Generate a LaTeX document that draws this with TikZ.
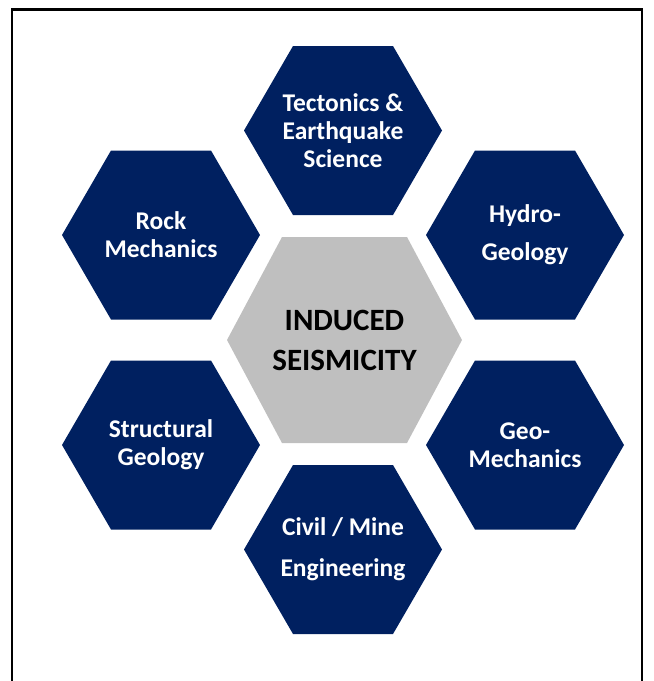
\documentclass[tikz,border=0pt]{standalone}
\usepackage{fontspec}
\setmainfont{Carlito}
\usetikzlibrary{calc}

\definecolor{hexblue}{HTML}{002060}
\definecolor{hexgray}{HTML}{BFBFBF}

\begin{document}
\begin{tikzpicture}[x=1pt,y=-1pt,
  lbl/.style={text=white, align=center, font=\fontsize{25.5}{28}\selectfont\bfseries},
  core/.style={text=black, align=center, font=\fontsize{31}{40}\selectfont\bfseries}]
\useasboundingbox (0,0) rectangle (654,681);
\draw[black, line width=2.5pt] (12,681) -- (12,9.5) -- (642,9.5) -- (642,681);
% ring of six blue hexagons
\foreach \n/\x/\y in {Tec/343/130.5, Rock/161/235, Hyd/525/235, Str/161/445, Geo/525/445, Civ/343/549.5} {
 \coordinate (\n) at (\x,\y);
 \fill[hexblue] (\n) ++(-99,0) --++(49,-84.5) --++(100,0) --++(49,84.5) --++(-49,84.5) --++(-100,0) -- cycle;
}
% grey hexagon in the middle
\coordinate (C) at (344.5,340);
\fill[hexgray] (C) ++(-117.5,0) --++(55,-103) --++(125,0) --++(55,103) --++(-55,103) --++(-125,0) -- cycle;
\node[core] (CT) at (C) {INDUCED\\SEISMICITY};
\node[lbl] (TecT) at (Tec) {Tectonics \&\\Earthquake\\Science};
\node[lbl] (RockT) at (Rock) {Rock\\Mechanics};
\node[lbl] (HydT) at (Hyd) {Hydro-\\[10pt]Geology};
\node[lbl] (StrT) at (Str) {Structural\\Geology};
\node[lbl] (GeoT) at (Geo) {Geo-\\Mechanics};
\node[lbl] (CivT) at (Civ) {Civil / Mine\\[13pt]Engineering};
\end{tikzpicture}
\end{document}
